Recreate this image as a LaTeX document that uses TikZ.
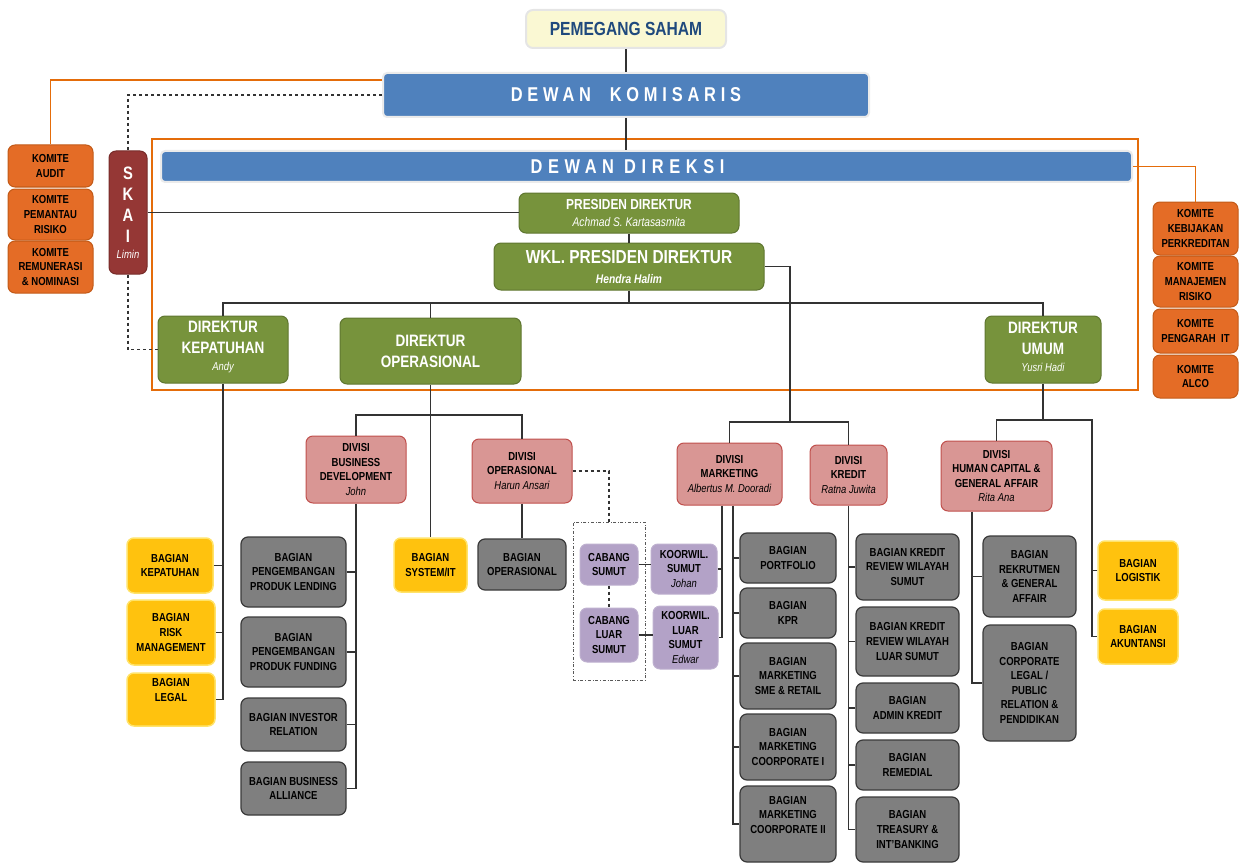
\documentclass[tikz,border=0pt]{standalone}
\usepackage{fontspec}
\setmainfont{Liberation Sans}[FakeStretch=0.82]
\usepackage{tikz}
\usetikzlibrary{positioning}

\definecolor{komOrange}{HTML}{E46C26}
\definecolor{komEdge}{HTML}{C25A18}
\definecolor{skaiRed}{HTML}{953735}
\definecolor{dirGreen}{HTML}{77933C}
\definecolor{dirBlue}{HTML}{4F81BD}
\definecolor{divPink}{HTML}{D99694}
\definecolor{divEdge}{HTML}{C0504D}
\definecolor{bagGray}{HTML}{7F7F7F}
\definecolor{bagEdge}{HTML}{3A3A3A}
\definecolor{bagYellow}{HTML}{FFC20E}
\definecolor{yelEdge}{HTML}{FFE36A}
\definecolor{cabLilac}{HTML}{B3A2C7}
\definecolor{sahamFill}{HTML}{FAF8D3}
\definecolor{sahamText}{HTML}{1F497D}
\definecolor{lineOrange}{HTML}{E46C0A}

\newcommand\kecil{\fontsize{11.6}{14.6}\selectfont\bfseries}
\newcommand\namaorg[1]{{\fontsize{11.5}{13}\selectfont\mdseries\itshape #1}}

\tikzset{
  sz/.style 2 args={minimum width=#1pt, minimum height=#2pt},
  kotak/.style={rounded corners=7pt, align=center, inner sep=0pt, line width=1pt},
  komite/.style={kotak, fill=komOrange, draw=komEdge, font=\kecil},
  bagian/.style={kotak, fill=bagGray, draw=bagEdge, line width=1.2pt, font=\kecil},
  kuning/.style={kotak, fill=bagYellow, draw=yelEdge, line width=1.5pt, font=\kecil},
  divisi/.style={kotak, fill=divPink, draw=divEdge, font=\kecil},
  cabang/.style={kotak, fill=cabLilac, draw=cabLilac!85!white, font=\kecil},
  direktur/.style={kotak, fill=dirGreen, draw=dirGreen!80!black, text=white},
  dewan/.style={kotak, rounded corners=4pt, fill=dirBlue, draw=black!8, line width=2pt, text=white,
    font=\fontsize{20}{24}\selectfont\bfseries\addfontfeature{LetterSpace=24}},
  garis/.style={draw=black!80, line width=1.1pt},
  garisOranye/.style={draw=lineOrange, line width=1.1pt}
}

\begin{document}
\begin{tikzpicture}[x=1pt,y=-1pt]
\useasboundingbox (0,0) rectangle (1240,864);

\draw[garisOranye] (152,139) rectangle (1138,390);

% top
\node[kotak, sz={200}{38}, fill=sahamFill, draw=black!10, line width=2pt, text=sahamText,
  font=\fontsize{19}{22}\selectfont\bfseries] (saham) at (626,29) {PEMEGANG SAHAM};
\node[dewan, sz={486}{44}] (komisaris) at (626,95) {DEWAN\ \ KOMISARIS};
\node[dewan, sz={971}{31}, font=\fontsize{20}{24}\selectfont\bfseries\addfontfeature{LetterSpace=28}]
  (direksi) at (646.5,166.5) {DEWAN DIREKSI\hspace*{38pt}};

% komite kiri
\node[komite, sz={85}{42}] (kaudit) at (50.5,166) {KOMITE\\AUDIT};
\node[komite, sz={85}{51}] (kpemantau) at (50.5,214.5) {KOMITE\\PEMANTAU\\RISIKO};
\node[komite, sz={85}{52}] (kremunerasi) at (50.5,267) {KOMITE\\REMUNERASI\\\& NOMINASI};

% komite kanan
\node[komite, sz={85}{53}] (kkebijakan) at (1195.5,228.5) {KOMITE\\KEBIJAKAN\\PERKREDITAN};
\node[komite, sz={85}{51}] (kmanajemen) at (1195.5,281.5) {KOMITE\\MANAJEMEN\\RISIKO};
\node[komite, sz={85}{44}] (kpengarah) at (1195.5,331) {KOMITE\\PENGARAH\ \ IT};
\node[komite, sz={85}{43}] (kalco) at (1195.5,376.5) {KOMITE\\ALCO};

\node[kotak, sz={38}{123}, fill=skaiRed, draw=skaiRed!80!black, text=white,
  font=\fontsize{18}{21}\selectfont\bfseries] (skai) at (128,212.5) {S\\K\\A\\I\\[-5pt]\namaorg{Limin}};

% direksi
\node[direktur, sz={220}{40}, font=\fontsize{14.5}{17}\selectfont\bfseries] (presdir) at (629,213)
  {PRESIDEN DIREKTUR\\{\fontsize{12.5}{13}\selectfont\mdseries\itshape Achmad S. Kartasasmita}};
\node[direktur, sz={270}{47}, font=\fontsize{18.8}{20}\selectfont\bfseries] (wkl) at (629,266.5)
  {WKL. PRESIDEN DIREKTUR\\{\fontsize{12.5}{13}\selectfont\itshape Hendra Halim}};
\node[direktur, sz={130}{67}, font=\fontsize{16.5}{21}\selectfont\bfseries] (dirkep) at (223,349.5)
  {\\[-14pt]DIREKTUR\\KEPATUHAN\\[-4pt]\namaorg{Andy}};
\node[direktur, sz={181}{66}, font=\fontsize{16.5}{21}\selectfont\bfseries] (dirops) at (430.5,351)
  {DIREKTUR\\OPERASIONAL};
\node[direktur, sz={116}{67}, font=\fontsize{16.5}{21}\selectfont\bfseries] (dirumum) at (1043,349.5)
  {\\[-14pt]DIREKTUR\\UMUM\\[-4pt]\namaorg{Yusri Hadi}};

% divisi
\node[divisi, sz={100}{67}] (divbd) at (356,469.5) {DIVISI\\BUSINESS\\DEVELOPMENT\\\namaorg{John}};
\node[divisi, sz={100}{64}] (divops) at (522,471) {DIVISI\\OPERASIONAL\\\namaorg{Harun Ansari}};
\node[divisi, sz={105}{62}] (divmkt) at (729.5,474) {DIVISI\\MARKETING\\\namaorg{Albertus M. Dooradi}};
\node[divisi, sz={77}{60}] (divkredit) at (848.5,475) {DIVISI\\KREDIT\\\namaorg{Ratna Juwita}};
\node[divisi, sz={111}{70}] (divhc) at (996.5,476) {DIVISI\\HUMAN CAPITAL \&\\GENERAL AFFAIR\\\namaorg{Rita Ana}};

% bagian kepatuhan
\node[kuning, sz={86}{55}] (bkepatuhan) at (170,565.5) {BAGIAN\\KEPATUHAN};
\node[kuning, sz={88}{65}] (brisk) at (171,632.5) {BAGIAN\\RISK\\MANAGEMENT};
\node[kuning, sz={88}{53}] (blegal) at (171,699.5) {BAGIAN\\LEGAL\\[4pt]};

% bagian business development
\node[bagian, sz={105}{70}] (blending) at (293.5,572) {BAGIAN\\PENGEMBANGAN\\PRODUK LENDING};
\node[bagian, sz={105}{70}] (bfunding) at (293.5,652) {BAGIAN\\PENGEMBANGAN\\PRODUK FUNDING};
\node[bagian, sz={105}{53}] (binvestor) at (293.5,724.5) {BAGIAN INVESTOR\\RELATION};
\node[bagian, sz={105}{53}] (balliance) at (293.5,788.5) {BAGIAN BUSINESS\\ALLIANCE};

\node[kuning, sz={73}{54}] (bsystem) at (430.5,565) {BAGIAN\\SYSTEM/IT};
\node[bagian, sz={88}{51}] (bagops) at (522,564.5) {BAGIAN\\OPERASIONAL};

% cabang
\node[draw=black!65, dashdotted, line width=1pt, sz={72}{158}, inner sep=0pt] (grupcab) at (609,601) {};
\node[cabang, sz={58}{41}] (cabsumut) at (609,564.5) {CABANG\\SUMUT};
\node[cabang, sz={58}{54}] (cabluar) at (609,635) {CABANG\\LUAR\\SUMUT};
\node[cabang, sz={66}{50}] (koorsumut) at (684,569) {KOORWIL.\\SUMUT\\\namaorg{Johan}};
\node[cabang, sz={65}{63}] (koorluar) at (685.5,637.5) {KOORWIL.\\LUAR\\SUMUT\\\namaorg{Edwar}};

% bagian marketing
\node[bagian, sz={96}{50}] (bmport) at (788,558) {BAGIAN\\PORTFOLIO};
\node[bagian, sz={96}{50}] (bmkpr) at (788,613) {BAGIAN\\KPR};
\node[bagian, sz={96}{66}] (bmsme) at (788,676) {BAGIAN\\MARKETING\\SME \& RETAIL};
\node[bagian, sz={96}{66}] (bmcorp1) at (788,747) {BAGIAN\\MARKETING\\COORPORATE I};
\node[bagian, sz={96}{76}] (bmcorp2) at (788,824) {BAGIAN\\MARKETING\\COORPORATE II\\[4pt]};

% bagian kredit
\node[bagian, sz={103}{66}] (bkrsumut) at (907.5,567) {BAGIAN KREDIT\\REVIEW WILAYAH\\SUMUT};
\node[bagian, sz={103}{69}] (bkrluar) at (907.5,641.5) {BAGIAN KREDIT\\REVIEW WILAYAH\\LUAR SUMUT};
\node[bagian, sz={103}{50}] (bkadmin) at (907.5,708) {BAGIAN\\ADMIN KREDIT};
\node[bagian, sz={103}{50}] (bkremedial) at (907.5,765) {BAGIAN\\REMEDIAL};
\node[bagian, sz={103}{65}] (bktreasury) at (907.5,829.5) {BAGIAN\\TREASURY \&\\INT'BANKING};

% bagian umum
\node[bagian, sz={93}{81}] (brekrut) at (1029.5,576.5) {BAGIAN\\REKRUTMEN\\\& GENERAL\\AFFAIR};
\node[bagian, sz={93}{116}] (bcorplegal) at (1029.5,683) {BAGIAN\\CORPORATE\\LEGAL /\\PUBLIC\\RELATION \&\\PENDIDIKAN};
\node[kuning, sz={80}{59}] (blogistik) at (1138,570.5) {BAGIAN\\LOGISTIK};
\node[kuning, sz={80}{55}] (bakuntansi) at (1138,636.5) {BAGIAN\\AKUNTANSI};

% garis
\coordinate (jlKom) at (0,80);
\coordinate (jlSkai) at (0,95);
\coordinate (jlDir) at (0,303);
\coordinate (jlOps) at (0,415);
\coordinate (jlMk) at (790,422);
\coordinate (jlUm) at (1092,420);
\coordinate (mkKiri) at ([xshift=-7.5pt]divmkt.south);
\coordinate (mkKanan) at ([xshift=3.5pt]divmkt.south);
\coordinate (hcKiri) at ([xshift=-24.5pt]divhc.south);

\draw[garis] (saham.south) -- (komisaris.north);
\draw[garis] (komisaris.south) -- (komisaris.south |- direksi.north);
\draw[garisOranye] (jlKom -| komisaris.west) -| (kaudit.north);
\draw[garisOranye] (direksi.east) -| (kkebijakan.north);
\draw[garis, dashed] (jlSkai -| komisaris.west) -| (skai.north);
\draw[garis, dashed] (skai.south) |- (dirkep.west);
\draw[garis] (skai.east) -- (skai.east -| presdir.west);

\draw[garis] (presdir.south) -- (wkl.north);
\draw[garis] (wkl.south) -- (wkl.south |- jlDir);
\draw[garis] (dirkep.north) |- (jlDir -| dirumum.north) -- (dirumum.north);
\draw[garis] (dirops.north) -- (dirops.north |- jlDir);
\draw[garis] (wkl.east) -| (jlMk);
\draw[garis] (divmkt.north) |- (jlMk) -| (divkredit.north);

\draw[garis] (dirkep.south) |- (blegal.east);
\foreach \b in {bkepatuhan,brisk}
  \draw[garis] (\b.east) -- (\b.east -| dirkep.south);

\draw[garis] (dirops.south) -- (bsystem.north);
\draw[garis] (divbd.north) |- (jlOps -| dirops.south) -| (divops.north);
\draw[garis] (divbd.south) |- (balliance.east);
\foreach \b in {blending,bfunding,binvestor}
  \draw[garis] (\b.east) -- (\b.east -| divbd.south);

\draw[garis] (divops.south) -- (bagops.north);
\draw[garis, dashed] (divops.east) -| (grupcab.north);
\draw[garis, dashed] (cabsumut.south) -- (cabluar.north);
\draw[garis] (cabsumut.east) -- (cabsumut.east -| koorsumut.west);
\draw[garis] (cabluar.east) -- (cabluar.east -| koorluar.west);

\draw[garis] (mkKiri) |- (koorluar.east);
\draw[garis] (koorsumut.east) -- (koorsumut.east -| mkKiri);
\draw[garis] (mkKanan) |- (bmcorp2.west);
\foreach \b in {bmport,bmkpr,bmsme,bmcorp1}
  \draw[garis] (\b.west) -- (\b.west -| mkKanan);

\draw[garis] (divkredit.south) |- (bktreasury.west);
\foreach \b in {bkrsumut,bkrluar,bkadmin,bkremedial}
  \draw[garis] (\b.west) -- (\b.west -| divkredit.south);

\draw[garis] (dirumum.south) -- (dirumum.south |- jlUm);
\draw[garis] (divhc.north) |- (jlUm) |- (bakuntansi.west);
\draw[garis] (blogistik.west) -- (blogistik.west -| jlUm);
\draw[garis] (hcKiri) |- (bcorplegal.west);
\draw[garis] (brekrut.west) -- (brekrut.west -| hcKiri);

\end{tikzpicture}
\end{document}
